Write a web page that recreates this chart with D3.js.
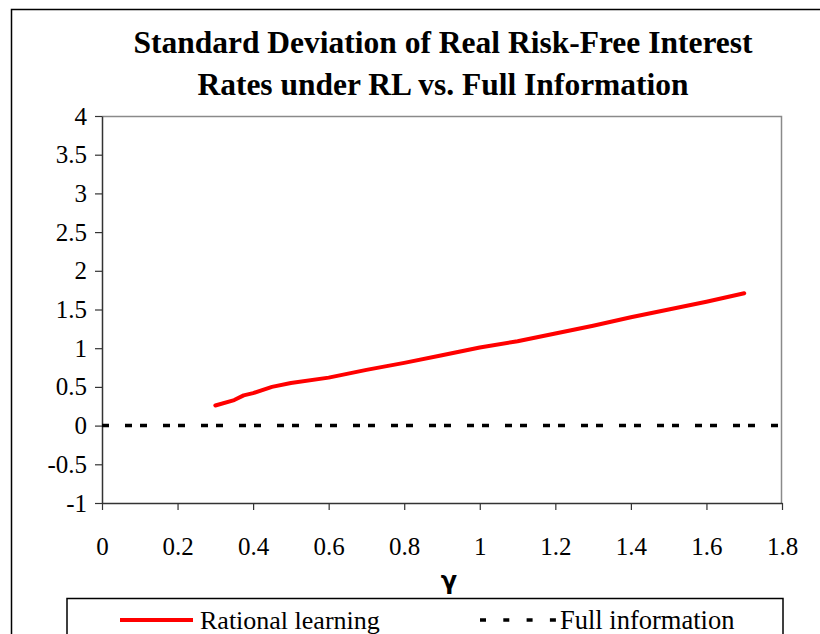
<!DOCTYPE html>
<html>
<head>
<meta charset="utf-8">
<script src="https://cdn.jsdelivr.net/npm/d3@7"></script>
<style>
  body { margin: 0; background: #fff; }
  svg text { font-family: "Liberation Serif", "DejaVu Serif", serif; }
</style>
</head>
<body>
<svg id="chart" width="820" height="634"></svg>
<script>
// data
var gammaRL = [0.3, 0.35, 0.375, 0.4, 0.45, 0.5, 0.6, 0.7, 0.8, 0.9, 1.0, 1.1, 1.2, 1.3, 1.4, 1.5, 1.6, 1.7];
var sdRL    = [0.26, 0.33, 0.39, 0.42, 0.50, 0.55, 0.62, 0.72, 0.81, 0.91, 1.01, 1.09, 1.19, 1.29, 1.40, 1.50, 1.60, 1.71];
var gammaFI = [0, 0.3, 0.45, 0.475, 0.55, 0.6, 1.0, 1.8];
var sdFI    = [0, 0, 0, 0, 0, 0, 0, 0];
var xTicks = [0, 0.2, 0.4, 0.6, 0.8, 1, 1.2, 1.4, 1.6, 1.8];
var yTicks = [-1, -0.5, 0, 0.5, 1, 1.5, 2, 2.5, 3, 3.5, 4];
var titleLines = ["Standard Deviation of Real Risk-Free Interest", "Rates under RL vs. Full Information"];

var svg = d3.select("#chart");

// outer frame (right side runs off the page)
svg.append("rect")
    .attr("x", 11.5).attr("y", 9.5)
    .attr("width", 830).attr("height", 640)
    .attr("fill", "#fff")
    .attr("stroke", "#000")
    .attr("stroke-width", 1.5);

var plotLeft = 102, plotRight = 782, plotTop = 116, plotBottom = 503;

var x = d3.scaleLinear().domain([0, 1.8]).range([plotLeft, plotRight]);
var y = d3.scaleLinear().domain([-1, 4]).range([plotBottom, plotTop]);

// plot border (top and right grey)
svg.append("path")
    .attr("d", "M" + plotLeft + "," + (plotTop + 0.5) + "H" + (plotRight - 0.5) + "V" + plotBottom)
    .attr("fill", "none")
    .attr("stroke", "#8a8a8a")
    .attr("stroke-width", 1.5);

// title
svg.append("g").selectAll("text")
    .data(titleLines)
    .join("text")
    .attr("x", 443)
    .attr("y", function(d, i) { return 53 + i * 42; })
    .attr("text-anchor", "middle")
    .attr("font-size", 31.5)
    .attr("font-weight", "bold")
    .text(function(d) { return d; });

// y axis
var yAxis = svg.append("g")
    .attr("transform", "translate(" + plotLeft + ",0)")
    .call(d3.axisLeft(y).tickValues(yTicks).tickSize(7).tickSizeOuter(0).tickPadding(8)
        .tickFormat(function(d) { return String(d); }));
yAxis.select(".domain").attr("stroke", "#333").attr("stroke-width", 1.5);
yAxis.selectAll(".tick line").attr("stroke", "#333").attr("stroke-width", 1.2);
yAxis.selectAll("text").attr("font-size", 25).attr("fill", "#000")
    .attr("font-family", "Liberation Serif, serif");

// x axis
var xAxis = svg.append("g")
    .attr("transform", "translate(0," + plotBottom + ")")
    .call(d3.axisBottom(x).tickValues(xTicks).tickSize(7).tickSizeOuter(0).tickPadding(27)
        .tickFormat(function(d) { return String(d); }));
xAxis.select(".domain").attr("stroke", "#333").attr("stroke-width", 1.5);
xAxis.selectAll(".tick line").attr("stroke", "#333").attr("stroke-width", 1.2);
xAxis.selectAll("text").attr("font-size", 25).attr("fill", "#000")
    .attr("font-family", "Liberation Serif, serif");

// x axis label
svg.append("text")
    .attr("x", 449).attr("y", 589)
    .attr("text-anchor", "middle")
    .attr("font-size", 24)
    .attr("font-weight", "bold")
    .style("font-family", "DejaVu Sans, sans-serif")
    .text("γ");

var line = d3.line()
    .x(function(d) { return x(d[0]); })
    .y(function(d) { return y(d[1]); });

// full information (dashed)
svg.append("path")
    .datum(d3.zip(gammaFI, sdFI))
    .attr("fill", "none")
    .attr("stroke", "#000")
    .attr("stroke-width", 3.5)
    .attr("stroke-dasharray", "7,8,7,16")
    .attr("stroke-dashoffset", 15)
    .attr("d", line);

// rational learning
svg.append("path")
    .datum(d3.zip(gammaRL, sdRL))
    .attr("fill", "none")
    .attr("stroke", "#ff0000")
    .attr("stroke-width", 4)
    .attr("stroke-linejoin", "round")
    .attr("stroke-linecap", "round")
    .attr("d", line);

// legend
var legend = svg.append("g");
legend.append("rect")
    .attr("x", 67).attr("y", 598.5)
    .attr("width", 716).attr("height", 60)
    .attr("fill", "#fff")
    .attr("stroke", "#000")
    .attr("stroke-width", 1.5);
legend.append("line")
    .attr("x1", 120).attr("x2", 193).attr("y1", 620).attr("y2", 620)
    .attr("stroke", "#ff0000").attr("stroke-width", 4);
legend.append("text")
    .attr("x", 200).attr("y", 629)
    .attr("font-size", 26)
    .text("Rational learning");
legend.append("line")
    .attr("x1", 480).attr("x2", 556).attr("y1", 620).attr("y2", 620)
    .attr("stroke", "#000").attr("stroke-width", 3.5)
    .attr("stroke-dasharray", "6,17.3");
legend.append("text")
    .attr("x", 560).attr("y", 629)
    .attr("font-size", 26.5)
    .text("Full information");
</script>
</body>
</html>
